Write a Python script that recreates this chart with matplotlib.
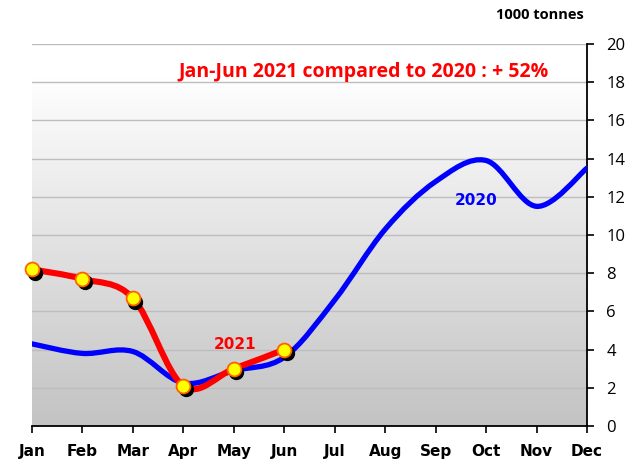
import numpy as np
import matplotlib
matplotlib.use("Agg")
import matplotlib.pyplot as plt
from matplotlib.path import Path
from matplotlib.patches import PathPatch
from matplotlib import transforms

months = ["Jan", "Feb", "Mar", "Apr", "May", "Jun",
          "Jul", "Aug", "Sep", "Oct", "Nov", "Dec"]
values_2020 = [4.3, 3.8, 3.9, 2.25, 2.9, 3.6, 6.6, 10.3, 12.8, 13.9, 11.5, 13.5]
values_2021 = [8.2, 7.7, 6.7, 2.1, 3.0, 4.0]
y_ticks = [0, 2, 4, 6, 8, 10, 12, 14, 16, 18, 20]


def smooth_path(xs, ys):
    """Cubic Bezier path through the points (Catmull-Rom style control points)."""
    xs = np.asarray(xs, float)
    ys = np.asarray(ys, float)
    n = len(xs)
    verts = [(xs[0], ys[0])]
    codes = [Path.MOVETO]
    for i in range(n - 1):
        p0 = np.array([xs[max(i - 1, 0)], ys[max(i - 1, 0)]])
        p1 = np.array([xs[i], ys[i]])
        p2 = np.array([xs[i + 1], ys[i + 1]])
        p3 = np.array([xs[min(i + 2, n - 1)], ys[min(i + 2, n - 1)]])
        c1 = p1 + (p2 - p0) / 6.0
        c2 = p2 - (p3 - p1) / 6.0
        verts += [tuple(c1), tuple(c2), tuple(p2)]
        codes += [Path.CURVE4] * 3
    return Path(verts, codes)


W, H = 631, 463
fig = plt.figure(figsize=(W / 100, H / 100), dpi=100)
ax = fig.add_axes([32 / W, (H - 426) / H, (587 - 32) / W, (426 - 44) / H])

x = np.arange(len(months))
n = len(months) - 1

# vertical gradient background: gray at bottom fading to white near the top
t = np.linspace(0, 1, 256)
shade = 1.0 - 0.235 * np.clip((0.92 - t) / 0.92, 0, 1)
img = np.repeat(shade[:, None], 3, axis=1).reshape(256, 1, 3)
ax.imshow(img, aspect="auto", extent=[0, n, 0, 20], origin="lower", zorder=0)
ax.set_xlim(0, n)
ax.set_ylim(0, 20)

# grid lines
for tk in y_ticks[1:]:
    ax.axhline(tk, color="#bdbdbd", lw=1.0, zorder=1)

# 2020 line
p2020 = smooth_path(x, values_2020)
ax.add_patch(PathPatch(p2020, fill=False, edgecolor="#0000ff", lw=3.8,
                       capstyle="round", joinstyle="round", zorder=3))

# 2021 line
x21 = x[:len(values_2021)]
p2021 = smooth_path(x21, values_2021)
ax.add_patch(PathPatch(p2021, fill=False, edgecolor="#ff0000", lw=4.4,
                       capstyle="round", joinstyle="round", zorder=4))

# marker shadows
shadow = transforms.offset_copy(ax.transData, fig=fig, x=2.5, y=-3.5, units="dots")
ax.plot(x21, values_2021, "o", ms=10, color="black", mec="black",
        transform=shadow, zorder=4.5, clip_on=False)
ax.plot(x21, values_2021, "o", ms=10, mfc="#ffff00", mec="#ff6000",
        mew=1.3, zorder=5, clip_on=False)

# spines and ticks
for s in ["left", "top"]:
    ax.spines[s].set_visible(False)
ax.spines["right"].set_color("black")
ax.spines["right"].set_linewidth(1.3)
ax.spines["bottom"].set_color("black")
ax.spines["bottom"].set_linewidth(1.3)
ax.yaxis.tick_right()
ax.set_yticks(y_ticks)
ax.set_yticklabels([str(v) for v in y_ticks], fontsize=12, family="Open Sans")
ax.tick_params(axis="y", direction="out", length=5, width=1.2, pad=9, colors="black")
ax.set_xticks(x)
ax.set_xticklabels(months, fontsize=11, fontweight="bold", family="DejaVu Sans")
ax.tick_params(axis="x", direction="out", length=5, width=1.2, pad=8)

# annotations
fig.text(540 / W, 1 - 15 / H, "1000 tonnes", ha="center", va="center",
         fontsize=10.5, fontweight="bold", family="Open Sans")
fig.text(364 / W, 1 - 72 / H, "Jan-Jun 2021 compared to 2020 : + 52%",
         ha="center", va="center", fontsize=14, fontweight="bold",
         color="#ff0000", family="Open Sans")
ax.text(8.8, 11.8, "2020", ha="center", va="center",
        fontsize=11, fontweight="bold", color="#0000ff", family="DejaVu Sans")
ax.text(4.02, 4.25, "2021", ha="center", va="center",
        fontsize=11, fontweight="bold", color="#ff0000", family="DejaVu Sans")

fig.savefig("out.png", dpi=100)
